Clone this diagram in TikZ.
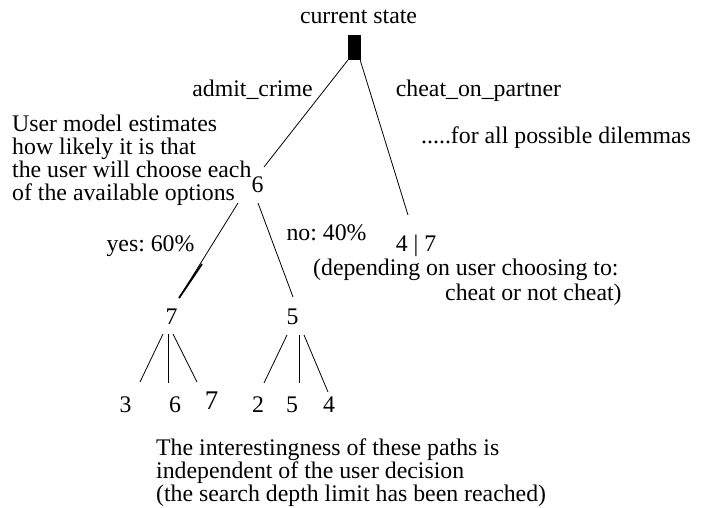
\documentclass[tikz,border=0pt]{standalone}
\usepackage{fontspec}
\setmainfont{Liberation Serif}
\usetikzlibrary{calc}
\tikzset{
  txt/.style={inner sep=0pt, font=\fontsize{23.8}{22.8}\selectfont},
  txtb/.style={inner sep=0pt, font=\fontsize{23.8}{24.5}\selectfont},
  big/.style={inner sep=0pt, font=\fontsize{27}{27}\selectfont},
  edge/.style={line width=0.8pt, black},
  statebox/.style={fill=black, draw=none, minimum width=13pt, minimum height=25pt, inner sep=0pt}
}
\begin{document}
\begin{tikzpicture}[x=1pt,y=-1pt]
\useasboundingbox (0,0) rectangle (709,508);
% root
\node[statebox] (root) at (354.5,47.5) {};
\node[txt, anchor=base] (cur) at (358.5,24) {current state};
% nodes
\node[txt] (n6) at (257.5,185) {6};
\node[txt] (n47) at (416,246) {4 | 7};
\node[txt] (n7) at (171.5,316.5) {7};
\node[txt] (n5) at (292.5,316.5) {5};
\node[txt] (l3) at (125.5,404.5) {3};
\node[txt] (l6) at (175,404.5) {6};
\node[big] (l7) at (211.5,401) {7};
\node[txt] (l2) at (258,404.5) {2};
\node[txt] (l5) at (292,404.5) {5};
\node[txt] (l4) at (329,404.5) {4};
% labels
\node[txt, anchor=base] (lac) at (252.5,96.7) {admit\_crime};
\node[txt, anchor=base] (lcp) at (478.5,96.7) {cheat\_on\_partner};
\node[txt, anchor=base west] (lall) at (421,143) {.....for all possible dilemmas};
\node[txt, anchor=base west, align=left] (lum) at (12,200) {User model estimates\\how likely it is that\\the user will choose each\\of the available options};
\node[txt, anchor=base] (lyes) at (150.5,251.7) {yes:~60\%};
\node[txt, anchor=base] (lno) at (326.5,240) {no:~40\%};
\node[txtb, anchor=base west, align=left] (ldep) at (313,300) {(depending on user choosing to:\\\hspace*{132pt}cheat or not cheat)};
\node[txt, anchor=base west, align=left] (lint) at (156,501) {The interestingness of these paths is\\independent of the user decision\\(the search depth limit has been reached)};
% edges
\draw[edge] (root.south west) -- ($(n6)+(6.5,-18)$);
\draw[edge] ($(root.south east)+(-1,0)$) -- ($(n47)+(-8,-31)$);
\draw[edge] ($(n6)+(-19.5,18)$) -- ($(n7)+(7.5,-18.5)$);
\draw[line width=1.8pt] ($(n6)+(-55.5,79)$) -- ($(n7)+(7.5,-18.5)$);
\draw[edge] ($(n6)+(0.5,18)$) -- ($(n5)+(0.5,-19.5)$);
\draw[edge] ($(n7)+(-8.5,17.5)$) -- ($(l3)+(14.5,-22.5)$);
\draw[edge] ($(n7)+(-3.5,17.5)$) -- ($(l6)+(-7,-21.5)$);
\draw[edge] ($(n7)+(1.5,17.5)$) -- ($(l7)+(-14.5,-19)$);
\draw[edge] ($(n5)+(-5.5,18.5)$) -- ($(l2)+(6,-21.5)$);
\draw[edge] ($(n5)+(6.5,18.5)$) -- ($(l5)+(7,-21.5)$);
\draw[edge] ($(n5)+(11.5,18.5)$) -- ($(l4)+(-1,-12.5)$);
\end{tikzpicture}
\end{document}
